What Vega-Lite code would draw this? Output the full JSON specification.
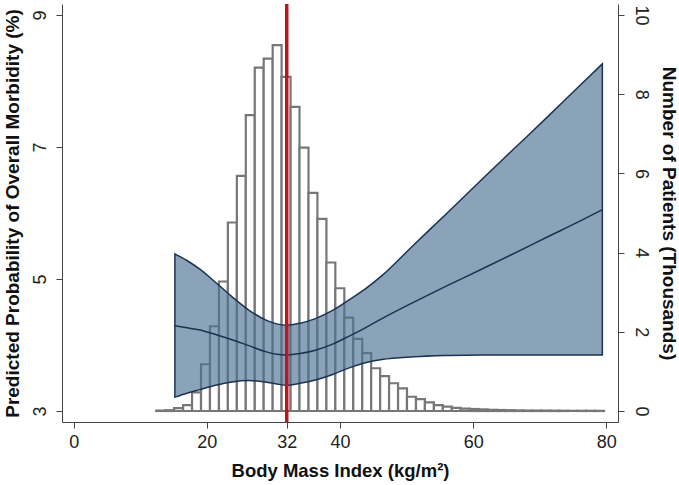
{
  "$schema": "https://vega.github.io/schema/vega-lite/v6.json",
  "width": 556,
  "height": 418,
  "autosize": {"type": "none"},
  "padding": {"left": 62, "top": 4, "right": 61, "bottom": 63},
  "background": "white",
  "config": {
    "view": {"stroke": null},
    "font": "Liberation Sans",
    "axis": {
      "labelFont": "Liberation Sans",
      "labelFontSize": 18,
      "labelColor": "#222222",
      "titleFont": "Liberation Sans",
      "titleFontSize": 18.5,
      "titleFontWeight": "bold",
      "titleColor": "#111111",
      "domainColor": "#444444",
      "tickColor": "#444444",
      "tickSize": 6,
      "grid": false
    }
  },
  "datasets": {
    "hist": [
      {"bmi": 12.40, "bmi_end": 13.75, "patients": 0.01},
      {"bmi": 13.75, "bmi_end": 15.09, "patients": 0.02},
      {"bmi": 15.09, "bmi_end": 16.44, "patients": 0.07},
      {"bmi": 16.44, "bmi_end": 17.78, "patients": 0.15},
      {"bmi": 17.78, "bmi_end": 19.13, "patients": 0.47},
      {"bmi": 19.13, "bmi_end": 20.47, "patients": 1.18},
      {"bmi": 20.47, "bmi_end": 21.82, "patients": 2.14},
      {"bmi": 21.82, "bmi_end": 23.16, "patients": 3.27},
      {"bmi": 23.16, "bmi_end": 24.51, "patients": 4.76},
      {"bmi": 24.51, "bmi_end": 25.85, "patients": 5.94},
      {"bmi": 25.85, "bmi_end": 27.20, "patients": 7.47},
      {"bmi": 27.20, "bmi_end": 28.54, "patients": 8.67},
      {"bmi": 28.54, "bmi_end": 29.89, "patients": 8.90},
      {"bmi": 29.89, "bmi_end": 31.23, "patients": 9.24},
      {"bmi": 31.23, "bmi_end": 32.58, "patients": 8.44},
      {"bmi": 32.58, "bmi_end": 33.92, "patients": 7.68},
      {"bmi": 33.92, "bmi_end": 35.27, "patients": 6.65},
      {"bmi": 35.27, "bmi_end": 36.61, "patients": 5.51},
      {"bmi": 36.61, "bmi_end": 37.96, "patients": 4.85},
      {"bmi": 37.96, "bmi_end": 39.30, "patients": 3.75},
      {"bmi": 39.30, "bmi_end": 40.65, "patients": 3.10},
      {"bmi": 40.65, "bmi_end": 41.99, "patients": 2.36},
      {"bmi": 41.99, "bmi_end": 43.34, "patients": 1.82},
      {"bmi": 43.34, "bmi_end": 44.68, "patients": 1.46},
      {"bmi": 44.68, "bmi_end": 46.03, "patients": 1.08},
      {"bmi": 46.03, "bmi_end": 47.37, "patients": 0.88},
      {"bmi": 47.37, "bmi_end": 48.72, "patients": 0.70},
      {"bmi": 48.72, "bmi_end": 50.06, "patients": 0.57},
      {"bmi": 50.06, "bmi_end": 51.41, "patients": 0.36},
      {"bmi": 51.41, "bmi_end": 52.75, "patients": 0.30},
      {"bmi": 52.75, "bmi_end": 54.10, "patients": 0.22},
      {"bmi": 54.10, "bmi_end": 55.44, "patients": 0.15},
      {"bmi": 55.44, "bmi_end": 56.79, "patients": 0.11},
      {"bmi": 56.79, "bmi_end": 58.13, "patients": 0.08},
      {"bmi": 58.13, "bmi_end": 59.48, "patients": 0.06},
      {"bmi": 59.48, "bmi_end": 60.82, "patients": 0.05},
      {"bmi": 60.82, "bmi_end": 62.17, "patients": 0.04},
      {"bmi": 62.17, "bmi_end": 63.51, "patients": 0.03},
      {"bmi": 63.51, "bmi_end": 64.86, "patients": 0.025},
      {"bmi": 64.86, "bmi_end": 66.20, "patients": 0.02},
      {"bmi": 66.20, "bmi_end": 67.55, "patients": 0.015},
      {"bmi": 67.55, "bmi_end": 68.89, "patients": 0.012},
      {"bmi": 68.89, "bmi_end": 70.24, "patients": 0.01},
      {"bmi": 70.24, "bmi_end": 71.58, "patients": 0.01},
      {"bmi": 71.58, "bmi_end": 72.93, "patients": 0.008},
      {"bmi": 72.93, "bmi_end": 74.27, "patients": 0.007},
      {"bmi": 74.27, "bmi_end": 75.62, "patients": 0.006},
      {"bmi": 75.62, "bmi_end": 76.96, "patients": 0.005},
      {"bmi": 76.96, "bmi_end": 78.31, "patients": 0.005},
      {"bmi": 78.31, "bmi_end": 79.65, "patients": 0.004}
    ],
    "fit": [
      {"bmi": 15.2, "upper": 5.38, "center": 4.29, "lower": 3.21},
      {"bmi": 17.0, "upper": 5.28, "center": 4.26, "lower": 3.27},
      {"bmi": 18.8, "upper": 5.16, "center": 4.23, "lower": 3.32},
      {"bmi": 21.3, "upper": 4.95, "center": 4.16, "lower": 3.39},
      {"bmi": 23.8, "upper": 4.73, "center": 4.08, "lower": 3.44},
      {"bmi": 26.3, "upper": 4.53, "center": 3.99, "lower": 3.46},
      {"bmi": 28.8, "upper": 4.38, "center": 3.90, "lower": 3.44},
      {"bmi": 30.5, "upper": 4.32, "center": 3.86, "lower": 3.41},
      {"bmi": 32.0, "upper": 4.30, "center": 3.85, "lower": 3.39},
      {"bmi": 34.0, "upper": 4.33, "center": 3.87, "lower": 3.42},
      {"bmi": 36.3, "upper": 4.40, "center": 3.92, "lower": 3.47},
      {"bmi": 38.8, "upper": 4.52, "center": 4.01, "lower": 3.55},
      {"bmi": 41.3, "upper": 4.68, "center": 4.13, "lower": 3.65},
      {"bmi": 43.8, "upper": 4.85, "center": 4.26, "lower": 3.73},
      {"bmi": 46.3, "upper": 5.05, "center": 4.40, "lower": 3.78},
      {"bmi": 51.1, "upper": 5.52, "center": 4.65, "lower": 3.82},
      {"bmi": 56.1, "upper": 6.00, "center": 4.90, "lower": 3.84},
      {"bmi": 61.1, "upper": 6.49, "center": 5.14, "lower": 3.85},
      {"bmi": 66.2, "upper": 6.98, "center": 5.39, "lower": 3.85},
      {"bmi": 71.2, "upper": 7.46, "center": 5.64, "lower": 3.85},
      {"bmi": 76.1, "upper": 7.94, "center": 5.88, "lower": 3.85},
      {"bmi": 79.4, "upper": 8.26, "center": 6.05, "lower": 3.85}
    ],
    "cutoff": [
      {"bmi": 32}
    ]
  },
  "layer": [
    {
      "data": {"name": "hist"},
      "mark": {"type": "rect", "fill": "white", "stroke": "#777777", "strokeWidth": 2.2},
      "encoding": {
        "x": {
          "field": "bmi",
          "type": "quantitative",
          "scale": {"domain": [-1.75, 81.75], "nice": false, "zero": false},
          "axis": {
            "values": [0, 20, 32, 40, 60, 80],
            "title": "Body Mass Index (kg/m²)",
            "labelPadding": 5,
            "titlePadding": 10
          }
        },
        "x2": {"field": "bmi_end"},
        "y": {
          "field": "patients",
          "type": "quantitative",
          "scale": {"domain": [-0.278, 10.278], "nice": false, "zero": false},
          "axis": {
            "orient": "right",
            "values": [0, 2, 4, 6, 8, 10],
            "labelAngle": 90,
            "labelPadding": 7,
            "title": "Number of Patients (Thousands)",
            "titleFontSize": 19,
            "titlePadding": 9
          }
        },
        "y2": {"datum": 0}
      }
    },
    {
      "data": {"name": "fit"},
      "mark": {
        "type": "area",
        "interpolate": "monotone",
        "fill": "#4c7193",
        "fillOpacity": 0.65,
        "stroke": "#1b3350",
        "strokeWidth": 1.5
      },
      "encoding": {
        "x": {
          "field": "bmi",
          "type": "quantitative",
          "scale": {"domain": [-1.75, 81.75], "nice": false, "zero": false},
          "title": "Body Mass Index (kg/m²)"
        },
        "y": {
          "field": "upper",
          "type": "quantitative",
          "scale": {"domain": [2.833, 9.167], "nice": false, "zero": false},
          "axis": {
            "orient": "left",
            "values": [3, 5, 7, 9],
            "labelAngle": -90,
            "labelPadding": 7,
            "title": "Predicted Probability of Overall Morbidity (%)",
            "titleFontSize": 19,
            "titlePadding": 9
          }
        },
        "y2": {"field": "lower"}
      }
    },
    {
      "data": {"name": "fit"},
      "mark": {"type": "line", "interpolate": "monotone", "stroke": "#1b3350", "strokeWidth": 1.5},
      "encoding": {
        "x": {
          "field": "bmi",
          "type": "quantitative",
          "scale": {"domain": [-1.75, 81.75], "nice": false, "zero": false},
          "title": "Body Mass Index (kg/m²)"
        },
        "y": {
          "field": "center",
          "type": "quantitative",
          "scale": {"domain": [2.833, 9.167], "nice": false, "zero": false},
          "axis": null
        }
      }
    },
    {
      "data": {"name": "cutoff"},
      "mark": {"type": "rule", "color": "#c1121f", "strokeWidth": 3.5},
      "encoding": {
        "x": {
          "field": "bmi",
          "type": "quantitative",
          "scale": {"domain": [-1.75, 81.75], "nice": false, "zero": false},
          "title": "Body Mass Index (kg/m²)"
        }
      }
    }
  ],
  "resolve": {"scale": {"y": "independent"}}
}
